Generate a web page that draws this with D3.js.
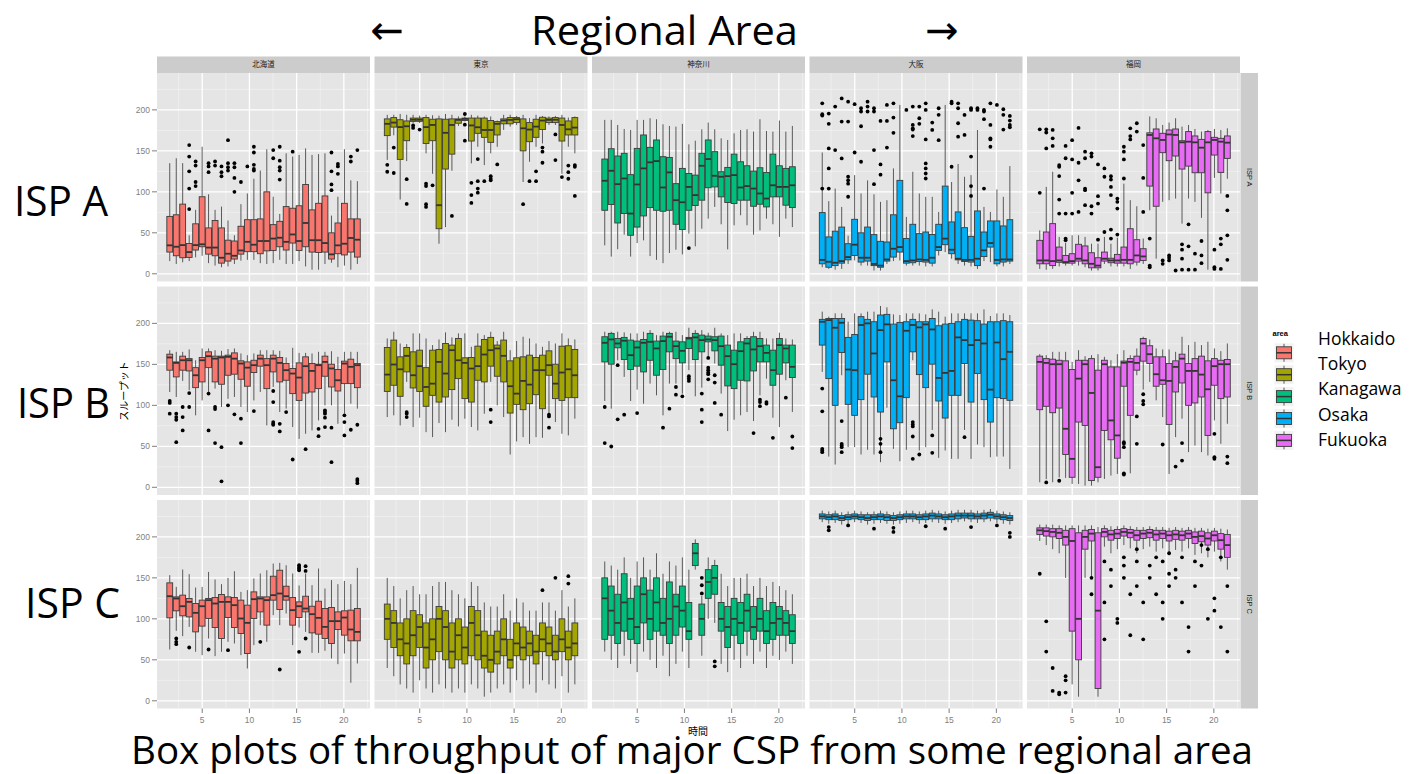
<!DOCTYPE html>
<html><head><meta charset="utf-8">
<script src="https://cdn.jsdelivr.net/npm/d3@7"></script>
<style>body{margin:0;background:#fff}</style>
</head><body><svg id="c" width="1410" height="774"></svg>
<script>
const areas = ["北海道","東京","神奈川","大阪","福岡"];
const areaLegend = ["Hokkaido","Tokyo","Kanagawa","Osaka","Fukuoka"];
const isps = ["ISP A","ISP B","ISP C"];
const hours = [1.56,2.25,2.93,3.62,4.30,4.99,5.67,6.36,7.04,7.73,8.41,9.10,9.78,10.47,11.15,11.84,12.52,13.21,13.89,14.58,15.26,15.95,16.63,17.32,18.00,18.69,19.37,20.06,20.74,21.43];
const xTicks = [5,10,15,20];
const yTicks = [0,50,100,150,200];
const colors = ["#F8766D","#A3A500","#00BF7D","#00B0F6","#E76BF3"];

// box stats: [lower whisker, q1, median, q3, upper whisker]
const hokkaidoA = [[15.5,26.5,34.7,70,135],[12,22,33,72,141],[14,19.6,35,85,135],[15.5,20,26.5,37,47],[20,29,35,61,78],[22,33,36,94,155],[13,24,32,56,97],[10,22,32,65,78],[8,13,19.6,56,82],[9,15.5,24.5,41,65],[12,18,22,40,47],[16,24,28.5,58,85],[17,27,39,66,98],[17,27,35.5,66,116],[13,24.5,40,67,126],[12,28,40,100,152],[13,28.5,43,60,94],[17,33,44,64,73],[12,29,39,82,147],[12,37.5,48,80,143],[15.5,28.5,40,83,145],[9,33,62,109,153],[5,26.5,41,78,145],[5,26,41,86,146],[12,26.5,37.5,95,147],[13.5,18,23.7,50,71],[8,24.5,34.7,62,94],[10,23,36.7,86,152],[5,26.5,43.7,67,114],[12,20.4,41.6,67,113]];
const tokyoA = [[139,168.6,183,189,194],[169,179,184.5,190.6,194],[90.6,139.6,179,188,195],[137.5,162.4,180,186.5,194],[184,186,188,190,194],[184,186,188,190,193],[147,159,179,190.6,194],[122,162.4,181.6,188.6,193.5],[36.7,55,83.7,189,193],[57,127.8,172,188.6,195],[125.7,146,181.6,189,194],[180.4,183.7,187.8,189,192],[186,187,189,190,192],[134.7,162,181,190,194],[155,171.4,178.8,190,193],[132.6,166.5,175.5,190,192],[147,160.4,175.5,187,192],[155,169.4,183,185.7,187],[175.5,183,187,189,194],[179.6,183,187.8,190.6,194],[181.6,184.5,188.6,190.6,192.6],[112,150,177.5,189,194],[136.7,161.2,176,184.5,190],[155,166.5,179.6,188.6,194],[159,176,187,191,192.6],[181.6,184.5,187.8,190,192],[181.6,184.5,188,190.6,192.6],[122,162,181.6,190,194],[155,169.4,176.3,186.5,190.6],[147,169.4,178.4,190.6,192]];
const kanagawaA = [[34.7,77.5,113.5,140,187.8],[21,84.5,125.7,152.6,187.8],[30,62,109.4,143.7,181.6],[47.8,73.5,116.3,147,176.7],[21,47,73.5,121,175.5],[37.5,57,109,153,187.8],[40.8,70.6,128.6,169.4,187.8],[21.6,80.8,136,154.3,189.8],[17,77.5,137.5,163.3,188.6],[13,76.3,105.3,142.9,182.4],[25.3,77.5,123.7,142,180.4],[29.4,60.4,89.8,110,179.6],[23.7,54,87.3,128.6,182.9],[49,77.5,106,122.4,158],[33.5,83.3,96,120.4,162.4],[55,89.8,131.8,147,176.3],[67.3,105,140,163.3,184.5],[81.6,106,119.6,149,176.3],[60.4,93.9,118.4,124.5,165.3],[29.8,87,119.2,129.8,163.3],[59.2,85.7,120.4,146,171.4],[71.4,89.8,105.3,136.7,175.5],[59.2,89.8,107,131.8,176.3],[47.8,82.4,104,125.3,173.5],[53,84.9,98,129.4,188.6],[67.3,81.6,91.8,123.7,174.3],[60.4,93.9,108,146,173.5],[45,93.9,106,131.8,187],[67.3,83.7,106,128.6,173.5],[57,80.8,108,130.6,180.4]];
const osakaA = [[8,12.2,17,74.7,148],[6,8,14.7,45,88.6],[5,10,13.5,52,104],[6,13,15.5,57,81.6],[12,17,20.4,36.7,46.5],[16.3,22.4,35.5,66.5,120.4],[10,14.3,19.6,50,98],[10,15.5,19.6,57,114],[4,10,12,47.8,97],[4,8,10,39.6,87.8],[12,15.5,17.5,38.8,89.8],[15.5,20.4,30.6,72,128.6],[16.3,26.5,32.6,114,206],[10,13,15.5,43,69.4],[10,13.5,16.3,60.4,124.5],[10,15,17.5,49,98],[9,14.3,17,51,93.9],[9,13,19.6,48,93.9],[22.4,28.6,32.6,60.4,75.5],[26.5,35.5,42.9,107,206],[18.4,24.5,29.4,63.3,112],[12,17,18.4,75.5,134],[10,15,17,56.3,118.4],[9,14.3,17,45.7,120.4],[6,10,18.4,76.7,175.5],[15.5,21,28.6,51,81.6],[14.3,32.6,37.5,64.5,75.5],[9,12.2,17,64.5,102.9],[9,14.3,17.5,58.4,93.9],[12,15.5,17.5,66,131.4]];
const fukuokaA = [[6,12.2,16.3,40.8,53],[5,12.2,16.3,51,106],[6,10,15.5,61.2,124.5],[9,14,16.3,32.6,45],[10,13,14.3,22.4,38],[10,13,15.5,24.5,47],[10,15.5,18.4,36,47],[8,12.2,16.3,34,45],[4,7.3,12.2,25.7,36.7],[4,7.3,10,19.6,36.7],[12,15.5,18.4,26.5,45],[9,13.5,16.3,19,36.7],[9,13,16.3,23.7,44],[9,13,17,32.6,110],[6,12.2,17,55,89.8],[10,14.3,22.4,41.6,82.4],[12,16.3,21.2,30.6,43],[77.5,107,169.4,172,192],[18.4,82.4,165.3,176.7,189.8],[87.8,147.8,163.3,171.4,181.6],[89.8,138,170,175.5,184.5],[91.8,143.7,169.4,176.7,189.8],[61.2,127.8,160.4,162.4,179.6],[91.8,131.4,161.2,173.5,181.6],[87.8,123.3,160.4,168.2,176.7],[68.2,123.3,153.9,164,173.5],[5,98.8,160.4,173.5,175.5],[117,144.9,163.3,166.5,176.7],[98,123.7,161.2,165.3,175.5],[116,140.8,160,168.2,177.5]];

const hokkaidoB = [[116.3,142.9,158.4,162.4,167.3],[110.2,134.7,151.8,153,165.3],[129.8,142.9,155,160,165.3],[118.4,142,155,157,168.2],[87.8,121.6,136.7,146,155],[106,128.6,155,158.4,169.4],[116.3,146,160,165.3,169.4],[120.4,128.6,157,160,167.3],[98,125.7,158.4,160,166.5],[108,136.7,159.2,161.2,168.6],[110.2,138,157,164,169.4],[98,131.8,151,154.3,163.3],[91.8,123.3,146,153,161.2],[106,140,149,155,163.3],[116.3,147.8,157,161.2,167.3],[75.5,120.4,149,157,167.3],[122.4,140.8,157,161.2,167.3],[91.8,128.6,151.8,158.4,166.5],[96,130.6,142.9,151,158.4],[73.5,114.3,138.8,145,170.2],[59,106,133.9,151.8,164],[65.3,115,147.8,159.2,164],[69.4,116.3,142,151,163.3],[81.6,120.4,149,150.2,165.3],[100,135.5,153,160,165.3],[100,122.4,145,150.2,166],[77.5,117.5,130.6,143.7,159.2],[89.8,126.5,151,153.9,165.3],[102,126.5,147,156.3,165.3],[96,121.6,149,151,165.3]];
const tokyoB = [[85.7,117,137.5,170.6,181.6],[87.8,124.5,149.8,179.6,189.8],[75.5,111,144,159.2,175.5],[128.6,140.8,160.4,170.6,174.7],[73.5,121.2,136.7,165.3,187.8],[84.9,117,147.8,167.3,187.8],[67.3,98.8,122.4,146,181.6],[61.2,112.2,126.5,167.3,173.5],[78.4,104,153,168.2,180.4],[67.3,110.2,138.8,175.5,189],[82.4,119.2,167.3,173.5,182.9],[74.3,132.6,155,181.6,187.8],[83.7,108.2,151.8,158,187.8],[73.5,104,144.9,158.4,171.4],[69.4,130.6,147.8,172.2,187.8],[89.8,128.6,162,180.4,185.7],[128.6,147.8,167.3,182.9,189.8],[100,135.5,169.4,173.5,178.4],[85.7,128.6,160.4,179.6,189.8],[40,90.6,123.3,154.3,167.3],[56,101.2,114.3,158,178.4],[61.2,94.7,129.8,159.2,183.7],[53,102,125.3,161.2,181.6],[61.2,113,142.9,158.4,175.5],[60.4,95.9,142.9,161.2,171.4],[89.8,136.7,149,166.5,178.4],[79.6,108.2,126.5,150.2,175.5],[65.3,106,140,172.2,187.8],[63.3,109.4,144,172.7,181.6],[83.7,109.4,136.7,168.2,180.4]];
const kanagawaB = [[105.3,153,176.3,183.7,189.8],[96,150.2,180.4,187.8,189.8],[155,170.2,175.5,181.6,189.8],[134.7,155.9,178.8,182.9,189],[105.3,143.7,161.2,179.6,187.8],[119.2,147.8,170.6,178.4,187.8],[102,140.8,176.3,180.4,189.8],[126.5,155,177.5,187.8,191.8],[112.2,136.7,169.4,178.4,185.7],[87.8,143.7,178.4,184.5,189.8],[126.5,165.3,183.7,187.8,189.8],[126.5,157,172.2,178.4,189.8],[114.3,151.8,166.5,177.5,185.7],[142.9,169.4,181.6,182.9,194.7],[111,155.9,182.9,187.8,191.8],[121.6,165.3,179.6,185.7,191.8],[159.2,177.5,180.4,184.5,188.6],[151,166.5,179.6,183.7,194.7],[114.3,149,172.2,184.5,187.8],[68.6,123.7,160,173.5,185.7],[82.4,120.4,150.2,167.3,187.8],[87.8,130.6,166.1,177.5,187.8],[91.8,129.8,175.5,181.6,184.5],[80.8,142,168.2,183.7,189.8],[112.2,153,172.2,181.6,189.8],[132.6,153,164,173.5,181.6],[84.9,124.5,142.9,167.3,181.6],[73.5,138,173.5,181.6,188.6],[130.6,151.8,169.4,173.5,181.6],[91.8,133.9,147,173.5,180.4]];
const osakaB = [[140.8,173.5,202,204.9,214.3],[37.5,132.6,204,206,208.2],[27.8,100,194.7,206,212.2],[136.7,164.5,200.8,206,212.2],[49,101.2,143.7,182.9,202],[49,87.8,142.9,186.5,212.2],[40,107,198,208.2,212.2],[45.7,138,200,204.9,214.3],[40,110.2,163.3,202,214.3],[30.6,91.8,191.8,210.2,221.2],[97.1,153,198.8,211,219.6],[46.9,71.4,130.6,199.2,211],[31.8,78.8,111,201.2,210.2],[45.7,109.4,191,202,212.2],[155,165.3,198,204.9,212.2],[44.9,137.5,195.1,202,212.2],[49,121.6,198.8,202,211],[70,150.2,192.6,206,217.1],[35.9,105.3,133.5,197.1,214.3],[44.9,84.5,139.6,199.2,208.2],[34.7,112.2,142,200,212.2],[34.7,112.2,182.9,202,212.2],[70,151,179.6,204.9,212.2],[34.7,104,173.5,204,212.2],[52.2,138.8,179.6,203.3,212.2],[49,107,175.5,199.2,217.1],[36.7,79.6,119.2,202,209],[37.5,109.4,176.7,202,212.2],[37.5,108.2,156.3,203.3,212.2],[22.4,106.1,165.3,202,210.2]];
const fukuokaB = [[6.1,94.7,153,160,162.4],[10,98.8,151.8,157,161.2],[6.1,91,150.2,156.3,165.3],[12,96.7,150.2,155,165.3],[11.4,40,71.4,154.3,165.3],[4.1,12.2,34.7,143.7,153],[4.1,79.6,132.6,155,167.3],[2,75.5,150.2,155,160],[2,8.2,115.1,157,161.2],[6.1,12.2,24.5,142.9,162.4],[10.2,69.4,150.2,155,159.2],[14.3,58,81.6,146.9,155],[16.3,35.5,63.3,146.9,162.4],[57.1,123.3,152,154,167.3],[17.1,87.8,153,157,161.2],[136.7,142.9,151.8,160,169.4],[119.2,153.9,175.5,181.6,183.7],[128.6,151,162.4,172.7,180.4],[106.1,123.3,138,159.2,169.4],[85.7,125.7,130.6,159.2,168.2],[16.3,76.7,129.8,151,168.2],[61.2,116.3,146.9,154.3,165.3],[83.7,127.3,157,162.4,183.7],[42.9,100,142,151,173.5],[51,102.9,142,157,177.5],[42.9,110.2,137.5,160,173.5],[38.8,63.3,119.6,154.3,177.5],[81.6,124.5,147.8,157,169.4],[53.1,108.2,150.2,155,166.1],[77.5,110.2,150.2,155.9,175.5]];

const hokkaidoC = [[62.6,101.2,127.6,143.9,153.3],[85.4,109.8,124.8,126.8,139],[78.9,103.7,115.4,128.9,160.2],[90.2,102.4,120.7,124.8,154.5],[59.8,84.1,107.3,118.7,138.2],[55.7,91.1,115.4,122.8,139],[76,100.4,122.8,124.8,157.3],[54.5,89.4,118.7,126,148],[59.8,76,120.7,129.7,142.3],[72,101.6,120.7,126.8,150],[69.9,89.4,116.7,126,158.1],[55.7,82.1,100.4,122.8,132.9],[39.4,57.7,95.1,116.7,135],[67.9,100.4,124,132.9,149.2],[92.3,108.5,124.8,126.8,155.3],[72,92.3,122.8,126.8,159.3],[104.5,122.8,128.9,152,167.5],[92.3,111.4,130.9,159.3,168.3],[106.5,122.8,127.6,139.8,165.4],[67.9,92.3,110.6,126,155.3],[89.4,101.6,115.4,120.7,140.7],[84.1,108.5,112.6,127.6,155.3],[58.5,82.9,105.7,115.4,141.1],[58.5,81.3,101.2,121.5,161.4],[61,76,90.2,112.6,137],[51.6,69.9,97.2,113.8,147.2],[44.7,87,97.2,108.5,142.3],[57.7,80.1,101.6,109.8,146.3],[22,73.2,87,110.6,142.3],[45.5,73.2,84.1,112.6,162.2]];
const tokyoC = [[40,75,100,118,150],[30,65,95,110,140],[20,55,75,95,125],[15,45,70,100,135],[10,55,80,110,140],[25,65,90,105,130],[15,40,65,95,130],[10,50,75,100,140],[20,60,100,115,145],[15,50,90,110,145],[10,40,60,95,135],[15,50,80,100,130],[10,45,65,90,125],[20,55,95,115,145],[15,50,80,110,140],[5,40,55,85,120],[10,35,50,80,115],[15,45,60,85,115],[20,55,75,100,130],[10,40,50,75,110],[25,55,70,95,125],[15,50,65,90,120],[20,55,70,85,110],[10,45,60,80,110],[25,60,75,95,120],[20,55,70,90,120],[15,50,60,80,110],[30,60,75,100,135],[10,50,65,85,115],[20,55,70,95,125]];
const kanagawaC = [[60,75,125,150,170],[50,80,110,140,165],[40,70,95,130,160],[55,85,120,155,175],[45,75,100,125,150],[35,70,90,140,170],[60,95,130,150,175],[50,75,100,135,160],[40,85,120,150,180],[55,80,95,125,155],[30,70,100,145,170],[45,80,115,130,165],[60,90,110,140,175],[40,75,85,120,160],[160,165,180,192,197],[55,80,100,118,128],[100,125,145,160,175],[95,130,150,165,172],[45,85,100,120,155],[35,65,90,115,140],[50,80,100,125,150],[40,70,95,120,150],[55,85,110,130,155],[45,75,90,115,140],[60,85,100,125,150],[40,70,85,110,140],[55,75,95,120,145],[50,80,100,115,140],[60,80,95,110,135],[45,70,85,105,130]];
const osakaC = [[218,222,225,228,232],[216,221,224,227,231],[217,221,225,228,232],[215,220,223,226,230],[216,221,224,227,231],[218,222,225,228,232],[217,221,224,227,231],[215,220,223,227,230],[216,221,224,227,231],[217,221,225,228,232],[216,220,224,227,231],[215,220,223,226,230],[216,221,224,227,231],[217,222,225,228,232],[218,222,225,228,232],[216,221,224,227,231],[217,221,225,228,232],[218,222,226,229,233],[217,222,225,228,232],[216,221,224,227,231],[217,221,225,228,232],[218,222,226,229,233],[219,223,226,229,233],[218,222,226,229,233],[217,222,225,228,232],[218,222,226,229,233],[219,223,227,230,234],[217,222,225,228,232],[216,221,224,227,231],[215,220,223,226,230]];
const fukuokaC = [[195,203,208,211,215],[190,201,207,211,215],[185,200,206,210,215],[180,198,205,210,214],[150,190,200,208,214],[20,85,195,210,214],[5,50,100,205,214],[150,185,200,208,214],[150,195,204,209,214],[5,15,110,205,212],[188,200,206,210,214],[180,196,203,208,213],[185,198,204,209,213],[190,201,206,210,214],[186,199,205,209,213],[180,196,202,208,212],[185,198,204,208,212],[188,199,205,209,213],[182,196,203,208,212],[186,198,204,208,212],[180,195,202,207,211],[184,197,203,208,212],[182,196,202,207,211],[186,198,204,208,212],[178,192,200,206,211],[180,194,201,207,211],[175,190,198,205,210],[182,195,202,207,211],[170,185,196,204,210],[160,175,190,203,209]];

// outliers: [box number, values...]
const hokkaidoAOut = [[4,157,143,125,104,79],[5,137,132,112,107],[7,135,131,124],[8,137,132],[9,131,124,119],[10,163,135,130,126],[11,135,130,117,100],[12,112],[13,131],[14,155,148,133,128,126],[17,151,141],[18,155,138,130,126,115],[20,149],[26,148,125,109,102],[27,134,131,122],[29,143,137],[30,151]];
const tokyoAOut = [[1,133,124.5],[2,154,123],[4,115.5,85.3],[5,181,178],[6,176],[7,110,107,85,81.6],[8,108],[11,70.6],[13,195,182,162.4],[14,111,96,86.5],[15,140,113,104,99],[16,113],[17,119,116,114],[18,133.5],[22,85],[23,113],[24,125,113],[25,154,149,135.5],[27,170,138.8],[28,118],[29,132,124,116],[30,132.6,130.6,95]];
const kanagawaAOut = [[14,31.4]];
const osakaAOut = [[1,208,194.7,193,104],[2,195.5,183,153,128.6,104],[3,204,151],[4,214,185.7,140.8],[5,210,185.7,118.4,114,110,94],[6,207,148],[7,202,198,180,136.7],[8,210,204,198],[9,202,198,151,109.4],[10,186.5,133.5,121],[11,206,186.5,154],[12,208,190.6,172],[14,200],[15,204,181.6,177.5,176,168],[16,204,189.8,183],[17,208,200,164,134.7,128.6,122.4,116.3],[18,184.5,175.5],[19,202,194,163],[21,210,208,130.6],[22,208,202,183.7,167.3],[23,193.9,169.4],[24,202,200,143,107,95],[25,202,200],[26,200,198,188.6,104],[27,208,181.6,165.3,164,155],[28,206],[29,200.8,194,176],[30,192.6,187,181.6,178.8]];
const fukuokaAOut = [[1,176.3,98.8],[2,176.3,172.4,153],[3,175.5,165.3,156],[4,132.6,130.6,119.2,90.6,73.5],[5,156,141,73.5,43,41],[6,163,139.6,98.8,73.5],[7,178,135.5,114,75.5],[8,149,141,104,102,83.7],[9,147,143,82.4,73.5],[10,133.5,94.7,85.7,41.6],[11,128.6,118.4,51],[12,119,115,106,96,54,43],[13,91.8,87.8,79.6,47.8],[14,155,149,139.6,116.3],[15,177.5,168,164],[16,183.7,173.5],[17,157,117,75.5],[18,43,10,8],[20,16.3,12.2],[21,22.4,19.6,16.3],[22,4],[23,35.9,29.4,18.4,5],[24,60.4,33.5,5],[25,24.5,5],[26,40,22.4,13],[28,29.4,8,6],[29,43,35.9,6],[30,95,77.5,47,17]];
const hokkaidoBOut = [[1,105.3,102.9,89.8],[2,89.8,85.7,82.4,55],[3,98,85.7,69.4],[4,115,98],[7,114.3,69.4],[8,98,95.5,53.9],[9,49,7.3],[10,100],[11,89],[12,83.7,53.9],[14,93],[17,117.5,104,79.6,77.5,76.3],[18,77.5,68.2],[19,91.8],[20,33.9],[22,46.5],[24,71.4,62.4],[25,93.9,91.8,89.8,84.9,73.5],[26,72.7,30.6],[28,87.8,79.6,63.3],[29,70.2],[30,76.3,10,8,5]];
const tokyoBOut = [[4,91.8,89.8,85.7],[17,94.7,79.6],[26,88.6,86.5,72.7]];
const kanagawaBOut = [[1,98,53.9],[2,49.8],[3,149,82.9],[4,88.6],[6,90.6],[10,72.7],[11,95.9],[12,122.4,113],[13,111],[14,135.5,132.6,129.8],[16,114.3,94.7,79.6],[17,157.9,146,142.9,140,138,131.8],[18,136.7,127.8,102.9],[19,88.6],[24,66.1],[25,106.9,104,99],[26,104,102],[27,60.4],[29,109.4],[30,62,47.8]];
const osakaBOut = [[1,120.4,92.7,46.9,44.9,42.9],[4,80.8,53,51,49,42.9],[10,59.2,53,42.9],[15,79.6,76.7,74.3,62,34.7],[16,40],[18,63.3,42],[23,61.2]];
const fukuokaBOut = [[2,6],[4,8],[14,55.1,53.1,49,17.1,15.5],[16,86.5,53.1],[17,113.5,105.3,101.2],[20,52.2],[22,25.3],[23,53.9,32.6],[28,65.3,36.7,34.7],[30,37.5,29.4]];
const hokkaidoCOut = [[2,76,72,69.1],[4,65],[7,62.6],[10,61.8],[15,72],[18,38.2],[21,165.4,163.4,161.4,159.3,59.8],[22,164.2,158.5,76]];
const tokyoCOut = [[25,135],[27,150],[29,152,143]];
const kanagawaCOut = [[16,150,141,131],[18,48,42]];
const osakaCOut = [[2,212,208],[5,214],[9,210],[12,211,206],[17,213],[20,210],[24,212],[28,214],[30,205,200]];
const fukuokaCOut = [[1,155],[2,97,60],[3,40,12],[4,10,8],[5,30,25,10],[9,150,130],[11,170,120,75],[12,160,140],[13,100,95],[14,175,165,150],[15,130,80],[16,185,170,140],[17,120,75],[18,165,150],[19,175,130],[20,170,120,100],[21,180,155,140],[22,160,150],[23,175,120],[24,90,60],[25,170,140],[26,190,165],[27,185,100],[28,125,110],[29,175,90],[30,140,60]];

const stats = [[hokkaidoA,tokyoA,kanagawaA,osakaA,fukuokaA],[hokkaidoB,tokyoB,kanagawaB,osakaB,fukuokaB],[hokkaidoC,tokyoC,kanagawaC,osakaC,fukuokaC]];
const outs = [[hokkaidoAOut,tokyoAOut,kanagawaAOut,osakaAOut,fukuokaAOut],[hokkaidoBOut,tokyoBOut,kanagawaBOut,osakaBOut,fukuokaBOut],[hokkaidoCOut,tokyoCOut,kanagawaCOut,osakaCOut,fukuokaCOut]];

const svg = d3.select("#c");
svg.append("rect").attr("width",1410).attr("height",774).attr("fill","#fff");

const colLeft = [157, 374.5, 592, 809.5, 1027];
const rowTop = [73, 286.5, 500];
const pw = 213, ph = 208.5;
const boxW = 0.617;

const x = d3.scaleLinear().domain([0.21, 22.77]).range([0, pw]);
const y = d3.scaleLinear().domain([-9.4, 245]).range([ph, 0]);
const minorX = [2.5,7.5,12.5,17.5,22.5];
const minorY = [25,75,125,175,225];

for (let r = 0; r < 3; r++) {
  for (let c = 0; c < 5; c++) {
    const g = svg.append("g").attr("transform", `translate(${colLeft[c]},${rowTop[r]})`);
    g.append("rect").attr("width", pw).attr("height", ph).attr("fill", "#E5E5E5");
    g.selectAll(".mx").data(minorX).join("line").attr("x1", d=>x(d)).attr("x2", d=>x(d)).attr("y1",0).attr("y2",ph).attr("stroke","#F2F2F2").attr("stroke-width",0.7);
    g.selectAll(".my").data(minorY).join("line").attr("y1", d=>y(d)).attr("y2", d=>y(d)).attr("x1",0).attr("x2",pw).attr("stroke","#F2F2F2").attr("stroke-width",0.7);
    g.selectAll(".Mx").data(xTicks).join("line").attr("x1", d=>x(d)).attr("x2", d=>x(d)).attr("y1",0).attr("y2",ph).attr("stroke","#fff").attr("stroke-width",1.3);
    g.selectAll(".My").data(yTicks).join("line").attr("y1", d=>y(d)).attr("y2", d=>y(d)).attr("x1",0).attr("x2",pw).attr("stroke","#fff").attr("stroke-width",1.3);

    const data = stats[r][c];
    const col = colors[c];
    const bx = g.selectAll(".box").data(data).join("g");
    bx.append("line").attr("x1",(d,i)=>x(hours[i])).attr("x2",(d,i)=>x(hours[i]))
      .attr("y1",d=>y(d[0])).attr("y2",d=>y(d[1])).attr("stroke","#5a5a5a").attr("stroke-width",1);
    bx.append("line").attr("x1",(d,i)=>x(hours[i])).attr("x2",(d,i)=>x(hours[i]))
      .attr("y1",d=>y(d[3])).attr("y2",d=>y(d[4])).attr("stroke","#5a5a5a").attr("stroke-width",1);
    bx.append("rect").attr("x",(d,i)=>x(hours[i]-boxW/2)).attr("width", x(boxW)-x(0))
      .attr("y", d=>y(d[3])).attr("height", d=>Math.max(0.5, y(d[1])-y(d[3])))
      .attr("fill", col).attr("stroke","#3a3a3a").attr("stroke-width",0.9);
    bx.append("line").attr("x1",(d,i)=>x(hours[i]-boxW/2)).attr("x2",(d,i)=>x(hours[i]+boxW/2))
      .attr("y1",d=>y(d[2])).attr("y2",d=>y(d[2])).attr("stroke","#333").attr("stroke-width",1.8);

    const pts = [];
    outs[r][c].forEach(o => { for (let k = 1; k < o.length; k++) pts.push([hours[o[0]-1], o[k]]); });
    g.selectAll(".pt").data(pts).join("circle").attr("cx", d=>x(d[0])).attr("cy", d=>y(d[1])).attr("r",1.9).attr("fill","#000");

    if (c === 0) {
      const ya = svg.append("g").attr("transform", `translate(${colLeft[0]},${rowTop[r]})`);
      ya.selectAll("line").data(yTicks).join("line").attr("x1",-5).attr("x2",0).attr("y1",d=>y(d)).attr("y2",d=>y(d)).attr("stroke","#7F7F7F").attr("stroke-width",1);
      ya.selectAll("text").data(yTicks).join("text").attr("x",-7).attr("y",d=>y(d)).attr("dy","0.35em")
        .attr("text-anchor","end").attr("font-family","Liberation Sans, Arial, sans-serif").attr("font-size",8.5).attr("fill","#7F7F7F").text(d=>d);
    }
    if (r === 2) {
      const xa = svg.append("g").attr("transform", `translate(${colLeft[c]},${rowTop[2]+ph})`);
      xa.selectAll("line").data(xTicks).join("line").attr("x1",d=>x(d)).attr("x2",d=>x(d)).attr("y1",0).attr("y2",4.5).attr("stroke","#7F7F7F").attr("stroke-width",1);
      xa.selectAll("text").data(xTicks).join("text").attr("x",d=>x(d)).attr("y",14)
        .attr("text-anchor","middle").attr("font-family","Liberation Sans, Arial, sans-serif").attr("font-size",8.5).attr("fill","#7F7F7F").text(d=>d);
    }
  }
}

// top strips
areas.forEach((a, c) => {
  svg.append("rect").attr("x", colLeft[c]).attr("y", 56.5).attr("width", pw).attr("height", 16.5).attr("fill", "#CCCCCC");
  svg.append("text").attr("x", colLeft[c] + pw/2).attr("y", 64.8).attr("dy","0.35em").attr("text-anchor","middle")
    .attr("font-family","Noto Sans CJK JP").attr("font-size",7.5).attr("fill","#1A1A1A").text(a);
});
// right strips
isps.forEach((s, r) => {
  svg.append("rect").attr("x", 1240.5).attr("y", rowTop[r]).attr("width", 17.5).attr("height", ph).attr("fill", "#CCCCCC");
  svg.append("text").attr("transform", `translate(1249.2,${rowTop[r]+ph/2}) rotate(90)`).attr("dy","0.35em").attr("text-anchor","middle")
    .attr("font-family","Liberation Sans, Arial, sans-serif").attr("font-size",7.5).attr("fill","#1A1A1A").text(s);
});

// axis titles
svg.append("text").attr("transform","translate(124,391) rotate(-90)").attr("dy","0.35em").attr("text-anchor","middle")
  .attr("font-family","Noto Sans CJK JP").attr("font-size",10).attr("fill","#000").text("スループット");
svg.append("text").attr("x",698).attr("y",731).attr("dy","0.35em").attr("text-anchor","middle")
  .attr("font-family","Noto Sans CJK JP").attr("font-size",10).attr("fill","#000").text("時間");

// legend
const lg = svg.append("g");
lg.append("text").attr("x",1272.5).attr("y",333.5).attr("dy","0.35em").attr("font-family","Liberation Sans, Arial, sans-serif")
  .attr("font-weight","bold").attr("font-size",7.5).attr("fill","#000").text("area");
colors.forEach((col, i) => {
  const cy = 352.8 + i*21.9;
  lg.append("rect").attr("x",1274.5).attr("y",cy-9.5).attr("width",19).attr("height",19).attr("fill","#F2F2F2");
  lg.append("line").attr("x1",1284).attr("x2",1284).attr("y1",cy-9).attr("y2",cy+9).attr("stroke","#5a5a5a");
  lg.append("rect").attr("x",1276.5).attr("y",cy-6).attr("width",15).attr("height",12).attr("fill",col).attr("stroke","#3a3a3a").attr("stroke-width",0.9);
  lg.append("line").attr("x1",1276.5).attr("x2",1291.5).attr("y1",cy).attr("y2",cy).attr("stroke","#333").attr("stroke-width",1.5);
  lg.append("text").attr("x",1318).attr("y",345 + i*25.2).attr("font-family","Open Sans, sans-serif").attr("font-size",17.5)
    .attr("fill","#000").text(areaLegend[i]);
});

// slide annotations
const big = "Open Sans, sans-serif";
svg.append("text").attr("x",531).attr("y",45).attr("font-family",big).attr("font-size",41).attr("textLength",267).attr("lengthAdjust","spacingAndGlyphs").text("Regional Area");
svg.append("text").attr("x",387).attr("y",44).attr("text-anchor","middle").attr("font-family","DejaVu Sans").attr("font-size",40).text("←");
svg.append("text").attr("x",942).attr("y",44).attr("text-anchor","middle").attr("font-family","DejaVu Sans").attr("font-size",40).text("→");
svg.append("text").attr("x",14).attr("y",216).attr("font-family",big).attr("font-size",42).attr("textLength",94).attr("lengthAdjust","spacingAndGlyphs").text("ISP A");
svg.append("text").attr("x",17).attr("y",418).attr("font-family",big).attr("font-size",42).attr("textLength",93).attr("lengthAdjust","spacingAndGlyphs").text("ISP B");
svg.append("text").attr("x",25).attr("y",618).attr("font-family",big).attr("font-size",42).attr("textLength",95).attr("lengthAdjust","spacingAndGlyphs").text("ISP C");
svg.append("text").attr("x",131).attr("y",764).attr("font-family",big).attr("font-size",38.5).attr("textLength",1122).attr("lengthAdjust","spacingAndGlyphs").text("Box plots of throughput of major CSP from some regional area");
</script></body></html>
